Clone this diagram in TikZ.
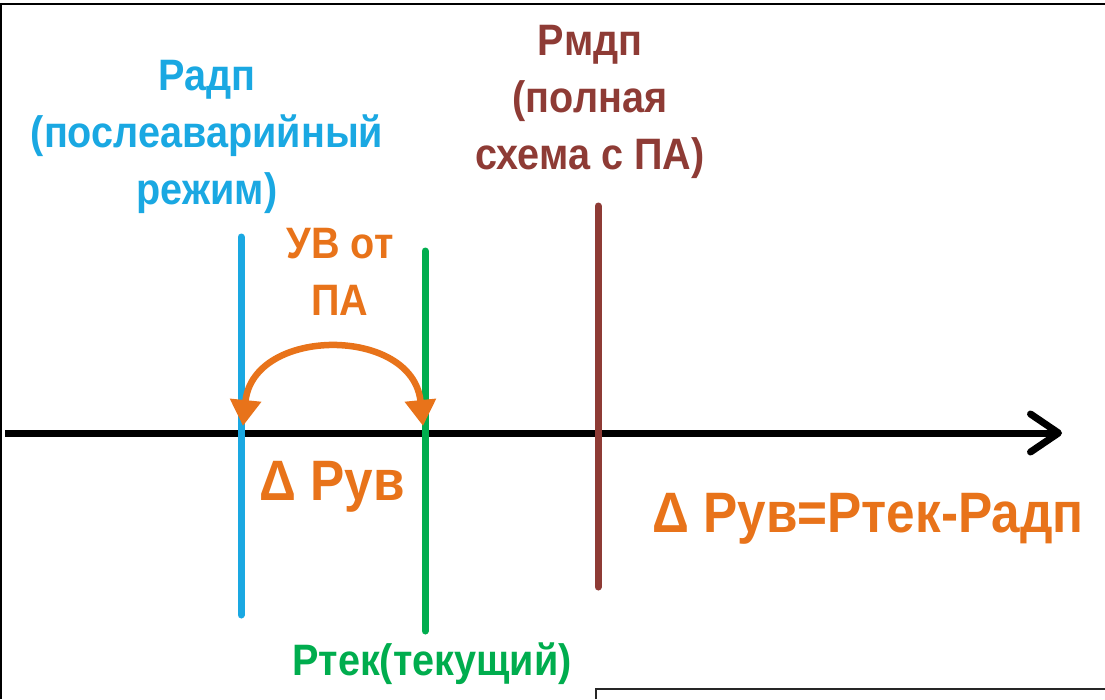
\documentclass[tikz,border=0pt]{standalone}
\usepackage{fontspec}
\setmainfont{Liberation Sans}[FakeStretch=0.9]
\usetikzlibrary{arrows.meta}
\definecolor{cblue}{HTML}{1AA8E2}
\definecolor{cgreen}{HTML}{00AD4E}
\definecolor{cbrown}{HTML}{8E3B35}
\definecolor{corange}{HTML}{E8731A}
\tikzset{
  lbl/.style={font=\bfseries\fontsize{44}{57}\selectfont, align=center, inner sep=0pt},
  biglbl/.style={lbl, font=\bfseries\fontsize{57}{60}\selectfont},
  level/.style={line width=7pt, line cap=round},
}
\begin{document}
\begin{tikzpicture}[x=1pt,y=-1pt]
\useasboundingbox (0,0) rectangle (1105,699);
% frame
\draw[line width=2.5pt] (1,699) -- (1,4) -- (1105,4);
\draw[line width=2pt, black!85] (596,699) -- (596,689) -- (1105,689);
% axis
\coordinate (ax0) at (5,433);
\coordinate (ax1) at (1062,433);
\draw[line width=7pt, -{Straight Barb[length=28pt,width=38pt,line cap=round,line join=round]}] (ax0) -- (ax1);
% levels
\coordinate (b0) at (241,237); \coordinate (b1) at (241,615);
\coordinate (g0) at (425,251); \coordinate (g1) at (425,631);
\coordinate (r0) at (598,206); \coordinate (r1) at (598,587);
\draw[level, cblue] (b0) -- (b1);
\draw[level, cgreen] (g0) -- (g1);
\draw[level, cbrown] (r0) -- (r1);
% control action arc
\coordinate (u0) at (243,426);
\coordinate (u1) at (423,426);
\draw[corange, line width=6.5pt, {Triangle[length=26pt,width=30pt]}-{Triangle[length=26pt,width=30pt]}]
  (u0) .. controls (253,326) and (413,326) .. (u1);
% labels
\node[lbl, cblue] (tb) at (207,137) {Радп\\(послеаварийный\\режим)};
\node[lbl, cbrown] (tr) at (590,102) {Рмдп\\(полная\\схема с ПА)};
\node[lbl, corange] (tu) at (340,272) {УВ от\\ПА};
\node[lbl, cgreen] (tg) at (432,664) {Ртек(текущий)};
\node[biglbl, corange] (td) at (332,487) {Δ Рув};
\node[biglbl, corange] (tf) at (868,519) {Δ Рув=Ртек-Радп};
\end{tikzpicture}
\end{document}
